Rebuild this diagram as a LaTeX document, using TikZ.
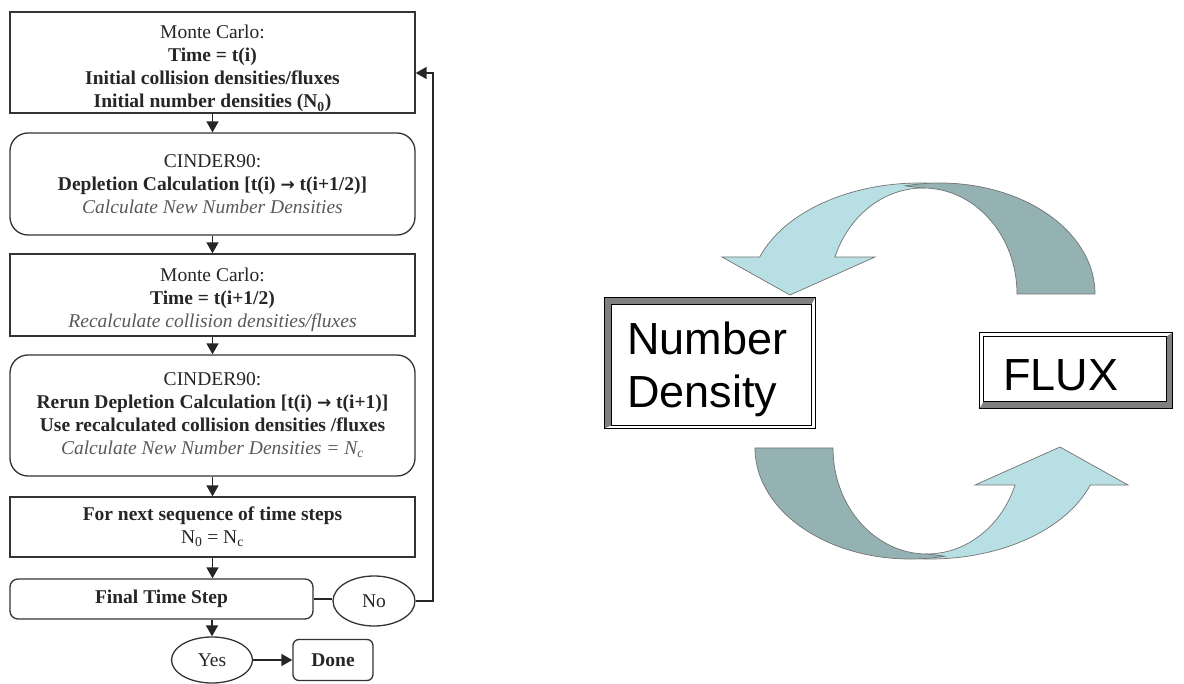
\documentclass[tikz,border=0pt]{standalone}
\usepackage{fontspec}
\setmainfont{Liberation Serif}
\newfontfamily\arialf{Liberation Sans}
\newfontfamily\dejavu{DejaVu Sans}
\usetikzlibrary{arrows.meta,shapes.geometric,calc}
\definecolor{lightarc}{RGB}{184,224,228}
\definecolor{darkarc}{RGB}{148,178,180}
\definecolor{framegray}{RGB}{128,128,128}
\newcommand{\rarr}{{\dejavu\bfseries\fontsize{17}{17}\selectfont →}}
\newcommand{\softit}[1]{\textcolor{black!65}{\textit{#1}}}
\newcommand{\cyclearrow}{%
  \filldraw[arcband, fill=lightarc] (949.5,184.7)
     arc[start angle=-80, end angle=-160.5, x radius=170, y radius=111]
     -- (722,257) -- (790,295) -- (875,257) -- (834.9,257.1)
     arc[start angle=-159.6, end angle=-90, x radius=94, y radius=106] -- cycle;
  \filldraw[arcband, fill=darkarc] (1095,294)
     arc[start angle=0, end angle=-103, x radius=155, y radius=111]
     -- (923,188)
     arc[start angle=-90, end angle=0, x radius=94, y radius=106] -- cycle;
}
\begin{document}
\begin{tikzpicture}[x=1pt,y=-1pt,
  flowtxt/.style={font=\fontsize{19.5}{23}\selectfont, align=center, text=black!85},
  stepbox/.style={draw=black!80, line width=1.3pt, minimum width=405pt, inner sep=0pt, flowtxt},
  roundbox/.style={stepbox, rounded corners=18pt},
  oval/.style={ellipse, draw=black!80, line width=1.3pt, inner sep=0pt, flowtxt},
  flowarrow/.style={draw=black!85, line width=1.5pt, -{Triangle[length=11pt,width=12pt]}},
  flowline/.style={draw=black!85, line width=1.5pt},
  bigtxt/.style={font=\arialf\fontsize{45}{53}\selectfont, align=left, inner sep=0pt},
  framebox/.style={inner sep=0pt},
  arcband/.style={draw=black!55, line width=0.7pt}
]
\useasboundingbox[fill=white] (0,0) rectangle (1184,684);

% ---------- flowchart ----------
\node[stepbox, minimum height=101pt] (box1) at (212.5,62.5)
  {\rule{0pt}{26pt}Monte Carlo:\\ \textbf{Time = t(i)}\\ \textbf{Initial collision densities/fluxes}\\ \textbf{Initial number densities (N\textsubscript{0})}};
\node[roundbox, minimum height=102pt] (box2) at (212.5,184)
  {CINDER90:\\ \textbf{Depletion Calculation [t(i) \rarr{} t(i+1/2)]}\\ \softit{Calculate New Number Densities}};
\node[stepbox, minimum height=82pt] (box3) at (212.5,295)
  {\rule{0pt}{23pt}Monte Carlo:\\ \textbf{Time = t(i+1/2)}\\ \softit{Recalculate collision densities/fluxes}};
\node[roundbox, minimum height=121pt] (box4) at (212.5,415.5)
  {CINDER90:\\ \textbf{Rerun Depletion Calculation [t(i) \rarr{} t(i+1)]}\\ \textbf{Use recalculated collision densities /fluxes}\\ \softit{Calculate New Number Densities = N\textsubscript{c}}};
\node[stepbox, minimum height=60pt] (box5) at (212.5,527)
  {\textbf{For next sequence of time steps}\\ N\textsubscript{0} = N\textsubscript{c}};
\node[stepbox, rounded corners=8pt, minimum width=303pt, minimum height=40pt] (box6) at (161.5,599)
  {\textbf{Final Time Step}};
\node[oval, minimum width=82pt, minimum height=50pt] (no) at (374,601) {No};
\node[oval, minimum width=81pt, minimum height=46pt] (yes) at (212,660) {Yes};
\node[stepbox, rounded corners=6pt, minimum width=80pt, minimum height=41pt] (done) at (333,660) {\textbf{Done}};

\draw[flowarrow] (box1.south) -- (box2.north);
\draw[flowarrow] (box2.south) -- (box3.north);
\draw[flowarrow] (box3.south) -- (box4.north);
\draw[flowarrow] (box4.south) -- (box5.north);
\draw[flowarrow] (box5.south) -- (box5.south |- box6.north);
\draw[flowline] (box6.east) -- (box6.east -| no.west);
\coordinate (looptop) at (433,73);
\draw[flowarrow] (no.east) -| (looptop) -- (box1.east |- looptop);
\draw[flowarrow] (box6.south -| yes.north) -- (yes.north);
\draw[flowarrow] (yes.east) -- (done.west);

% ---------- cycle diagram ----------
\cyclearrow
\begin{scope}[rotate around={180:(925,371)}]
  \cyclearrow
\end{scope}

% Number Density box
\node[framebox, minimum width=210pt, minimum height=130pt] (ndbox) at (710,363) {};
\fill[framegray] (ndbox.north west) -- (ndbox.north east) -- ++(-4,7)
   -- ($(ndbox.north west)+(7,7)$) -- ($(ndbox.south west)+(7,-3)$) -- (ndbox.south west) -- cycle;
\draw[line width=0.8pt] (ndbox.north west) rectangle (ndbox.south east);
\draw[line width=0.8pt] ($(ndbox.north west)+(7,7)$) rectangle ($(ndbox.south east)+(-4,-3)$);
\node[bigtxt, anchor=base west] (ndtext) at (627,408) {Number\\Density};

% FLUX box
\node[framebox, minimum width=192pt, minimum height=75pt] (fluxbox) at (1076,370.5) {};
\fill[framegray] (fluxbox.north east) -- (fluxbox.south east) -- (fluxbox.south west)
   -- ($(fluxbox.south west)+(4,-7)$) -- ($(fluxbox.south east)+(-6,-7)$) -- ($(fluxbox.north east)+(-6,4)$) -- cycle;
\draw[line width=0.8pt] (fluxbox.north west) rectangle (fluxbox.south east);
\draw[line width=0.8pt] ($(fluxbox.north west)+(4,4)$) rectangle ($(fluxbox.south east)+(-6,-7)$);
\node[bigtxt, anchor=base west] (fluxtext) at (1003,391) {FLUX};
\end{tikzpicture}
\end{document}
